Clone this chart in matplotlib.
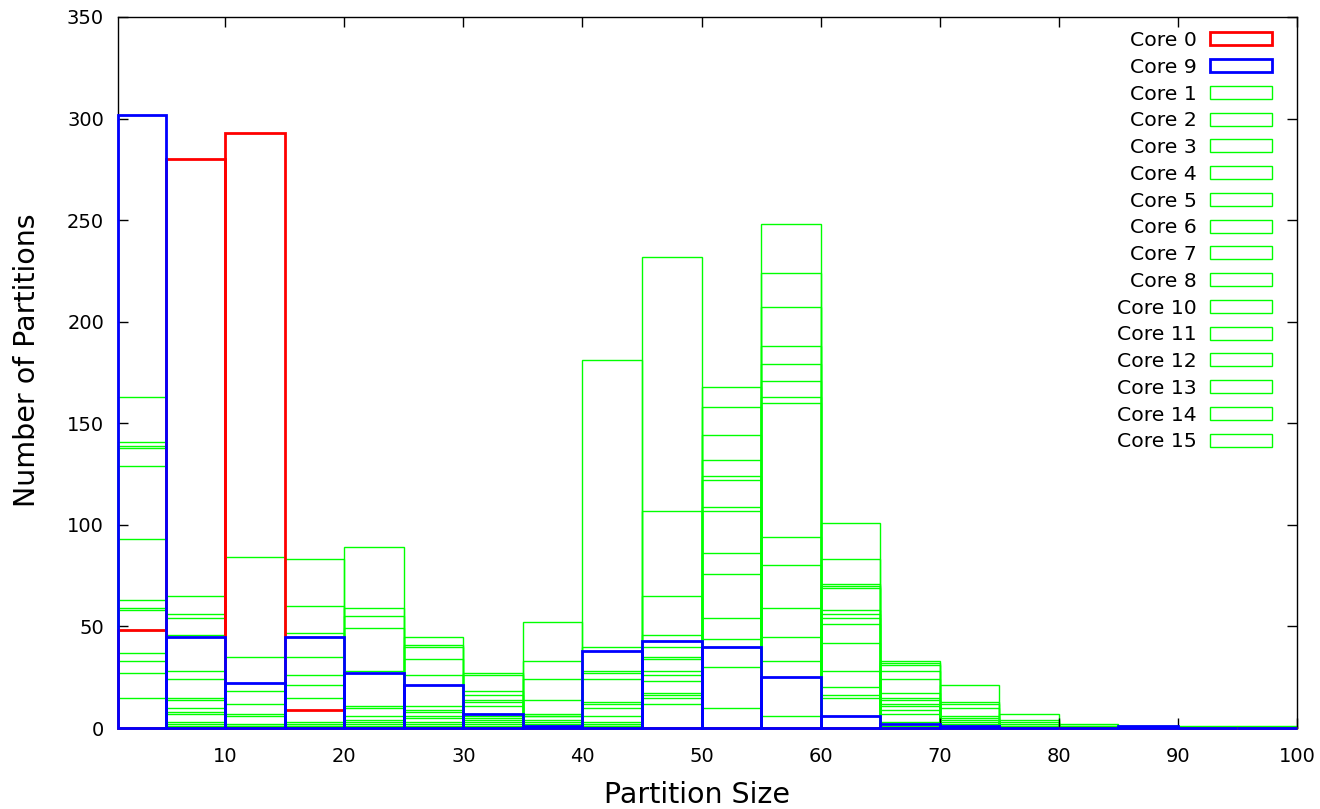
import numpy as np
import matplotlib
matplotlib.use("Agg")
import matplotlib.pyplot as plt
import matplotlib.patches as mpatches

plt.rcParams['font.family'] = ['DejaVu Sans']

# Histogram bins: width 5, from 0 to 100
bin_edges = list(range(0, 105, 5))
x_range = (1, 100)

core0 = [48, 280, 293, 9, 0, 0, 0, 0, 0, 0, 0, 0, 0, 0, 0, 0, 0, 0, 0, 0]
core9 = [302, 45, 22, 45, 27, 21, 7, 1, 38, 43, 40, 25, 6, 2, 1, 0, 0, 1, 0, 0]

core1 = [163, 65, 84, 83, 89, 45, 27, 52, 181, 232, 168, 248, 101, 33, 21, 7, 2, 1, 1, 1]
core2 = [141, 56, 35, 60, 59, 41, 26, 33, 40, 107, 158, 224, 83, 32, 13, 4, 1, 1, 0, 0]
core3 = [139, 54, 18, 47, 55, 40, 18, 24, 28, 65, 144, 207, 71, 31, 12, 3, 1, 0, 0, 0]
core4 = [138, 46, 12, 35, 49, 34, 16, 14, 27, 46, 132, 188, 70, 28, 10, 2, 0, 0, 0, 0]
core5 = [129, 28, 7, 26, 28, 26, 14, 7, 24, 40, 124, 179, 69, 24, 6, 1, 0, 0, 0, 0]
core6 = [93, 24, 6, 21, 11, 11, 13, 6, 13, 35, 122, 171, 58, 17, 5, 1, 0, 0, 0, 0]
core7 = [63, 15, 2, 15, 10, 9, 11, 6, 12, 34, 109, 163, 56, 15, 4, 0, 0, 0, 0, 0]
core8 = [59, 14, 1, 3, 6, 8, 6, 4, 10, 28, 107, 160, 54, 14, 3, 0, 0, 0, 0, 0]
core10 = [58, 10, 1, 2, 4, 6, 5, 3, 6, 26, 86, 94, 51, 12, 2, 0, 0, 0, 0, 0]
core11 = [48, 8, 0, 1, 3, 5, 4, 2, 3, 23, 76, 80, 42, 11, 1, 0, 0, 0, 0, 0]
core12 = [37, 7, 0, 1, 2, 3, 3, 1, 2, 17, 54, 59, 28, 9, 1, 0, 0, 0, 0, 0]
core13 = [33, 3, 0, 0, 1, 2, 2, 1, 1, 16, 44, 45, 20, 7, 0, 0, 0, 0, 0, 0]
core14 = [27, 2, 0, 0, 0, 1, 1, 0, 1, 15, 30, 33, 16, 3, 0, 0, 0, 0, 0, 0]
core15 = [15, 1, 0, 0, 0, 0, 0, 0, 0, 12, 10, 6, 15, 1, 0, 0, 0, 0, 0, 0]

# legend order
series = [
    ("Core 0", core0, "#ff0000", 2.0),
    ("Core 9", core9, "#0000ff", 2.0),
    ("Core 1", core1, "#00ff00", 1.0),
    ("Core 2", core2, "#00ff00", 1.0),
    ("Core 3", core3, "#00ff00", 1.0),
    ("Core 4", core4, "#00ff00", 1.0),
    ("Core 5", core5, "#00ff00", 1.0),
    ("Core 6", core6, "#00ff00", 1.0),
    ("Core 7", core7, "#00ff00", 1.0),
    ("Core 8", core8, "#00ff00", 1.0),
    ("Core 10", core10, "#00ff00", 1.0),
    ("Core 11", core11, "#00ff00", 1.0),
    ("Core 12", core12, "#00ff00", 1.0),
    ("Core 13", core13, "#00ff00", 1.0),
    ("Core 14", core14, "#00ff00", 1.0),
    ("Core 15", core15, "#00ff00", 1.0),
]

W, H = 1320, 809
fig = plt.figure(figsize=(W / 100, H / 100), dpi=100)
ax = fig.add_axes([118 / W, 1 - 728 / H, 1179 / W, 711 / H])

edges = np.array(bin_edges, dtype=float)
# boxes clipped to the x range (like gnuplot draws them)
lefts = np.maximum(edges[:-1], x_range[0])
rights = np.minimum(edges[1:], x_range[1])
widths = rights - lefts

handles = []
for i, (name, vals, col, lw) in enumerate(series):
    # green cores underneath, then red, then blue on top
    if name == "Core 9":
        z = 3.0
    elif name == "Core 0":
        z = 2.9
    else:
        z = 1 + i * 0.01
    ax.bar(lefts, vals, width=widths, align='edge', fill=False,
           edgecolor=col, linewidth=lw, clip_on=False, zorder=z)
    handles.append(mpatches.Patch(facecolor='none', edgecolor=col,
                                  linewidth=lw, label=name))

ax.set_xlim(*x_range)
ax.set_ylim(0, 350)
ax.set_xticks(range(10, 101, 10))
ax.set_yticks(range(0, 351, 50))
ax.tick_params(direction='in', top=True, right=True, length=7, width=1,
               labelsize=14, colors='black')
ax.tick_params(axis='x', pad=14)
ax.tick_params(axis='y', pad=10)
for s in ax.spines.values():
    s.set_linewidth(1.0)
    s.set_color('black')
    s.set_zorder(0.5)

ax.set_xlabel("Partition Size", fontsize=20.5)
ax.set_ylabel("Number of Partitions", fontsize=20.5)
ax.xaxis.set_label_coords(0.5 - 11 / 1179, -(795 - 728) / 711)
ax.xaxis.label.set_verticalalignment('center')
ax.yaxis.set_label_coords(-(118 - 27) / 1179, 0.5 + 12 / 711)
ax.yaxis.label.set_verticalalignment('center')

leg = ax.legend(handles=handles, loc='upper right',
                bbox_to_anchor=((1272 - 118) / 1179, (728 - 31) / 711),
                frameon=False, markerfirst=False, fontsize=14.7,
                handlelength=3.05, handleheight=0.6, handletextpad=0.62,
                labelspacing=0.38, borderpad=0, borderaxespad=0)
for t in leg.get_texts():
    t.set_ha('right')

fig.savefig("out.png", dpi=100)
